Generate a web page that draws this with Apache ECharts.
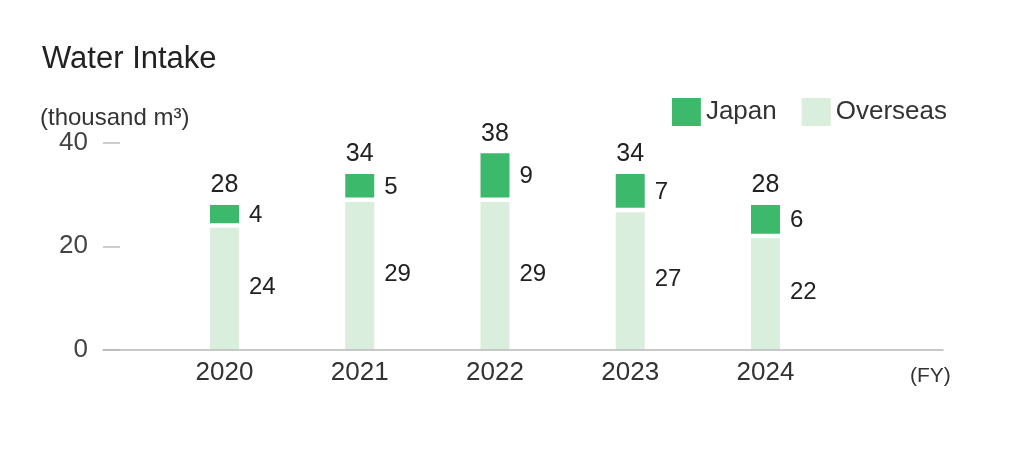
<!DOCTYPE html>
<html>
<head>
<meta charset="utf-8">
<script src="https://cdn.jsdelivr.net/npm/echarts@6/dist/echarts.min.js"></script>
<style>
html,body{margin:0;padding:0;background:#fff;}
#chart{width:1024px;height:460px;}
</style>
</head>
<body>
<div id="chart"></div>
<script>
var years = [2020, 2021, 2022, 2023, 2024];
var japan = [4, 5, 9, 7, 6];
var overseas = [24, 29, 29, 27, 22];
var totals = [28, 34, 38, 34, 28];
var yTicks = [0, 20, 40];

var FONT = 'Liberation Sans';
// rows are [value, year]; the value comes first so that stacking applies to it
function rows(arr) { return years.map(function (y, i) { return [arr[i], y]; }); }

var chart = echarts.init(document.getElementById('chart'));
chart.setOption({
  animation: false,
  backgroundColor: '#ffffff',
  title: [
    { text: 'Water Intake', left: 37, top: 39, textStyle: { fontFamily: FONT, fontSize: 31, fontWeight: 'normal', color: '#222' } },
    { text: '(thousand m³)', left: 35, top: 101, textStyle: { fontFamily: FONT, fontSize: 24, fontWeight: 'normal', color: '#333' } },
    { text: '(FY)', left: 905, top: 361, textStyle: { fontFamily: FONT, fontSize: 21, fontWeight: 'normal', color: '#333' } }
  ],
  legend: {
    data: ['Japan', 'Overseas'],
    right: 72, top: 93,
    itemWidth: 29, itemHeight: 28, itemGap: 25,
    icon: 'rect',
    selectedMode: false,
    textStyle: { fontFamily: FONT, fontSize: 26, color: '#333' }
  },
  grid: { left: 103, right: 81, top: 143, bottom: 110.5, containLabel: false },
  xAxis: {
    type: 'value', z: 5,
    min: 2019.1017, max: 2025.3124,
    axisLine: { show: true, lineStyle: { color: '#b8b8b8', width: 1.5 } },
    axisTick: { show: false },
    splitLine: { show: false },
    axisLabel: {
      customValues: years,
      formatter: function (v) { return String(Math.round(v)); },
      fontFamily: FONT, fontSize: 26, color: '#333', margin: 10
    }
  },
  yAxis: {
    type: 'value', min: 0, max: 40, interval: 20,
    axisLine: { show: false },
    axisTick: { show: true, inside: true, length: 17, lineStyle: { color: '#bdbdbd', width: 1.5 } },
    splitLine: { show: false },
    axisLabel: {
      customValues: yTicks,
      fontFamily: FONT, fontSize: 26, color: '#444', margin: 15
    }
  },
  series: [
    {
      name: 'Overseas', type: 'bar', stack: 'w', barWidth: 29, barGap: '-100%', silent: true,
      encode: { x: 1, y: 0 },
      itemStyle: { color: '#d9eedc' },
      label: { show: true, position: 'right', distance: 10, fontFamily: FONT, fontSize: 24, color: '#222',
               formatter: function (p) { return String(p.value[0]); } },
      data: rows(overseas)
    },
    {
      name: 'Japan', type: 'bar', stack: 'w', barWidth: 29, barGap: '-100%', silent: true,
      encode: { x: 1, y: 0 },
      itemStyle: { color: '#3db96b' },
      label: { show: true, position: 'right', distance: 10, fontFamily: FONT, fontSize: 24, color: '#222',
               formatter: function (p) { return String(p.value[0]); } },
      data: rows(japan)
    },
    {
      name: 'Total', type: 'bar', barWidth: 29, barGap: '-100%', silent: true,
      encode: { x: 1, y: 0 },
      itemStyle: { color: 'rgba(0,0,0,0)' },
      label: { show: true, position: 'top', distance: 7, fontFamily: FONT, fontSize: 25, color: '#222',
               formatter: function (p) { return String(p.value[0]); } },
      data: rows(totals)
    },
    {
      // thin white separator where Japan sits on Overseas
      name: 'sep', type: 'scatter', silent: true, z: 4,
      encode: { x: 1, y: 0 },
      symbol: 'rect', symbolSize: [33, 4.5],
      itemStyle: { color: '#ffffff', opacity: 1 },
      data: rows(overseas)
    }
  ]
});
</script>
</body>
</html>
